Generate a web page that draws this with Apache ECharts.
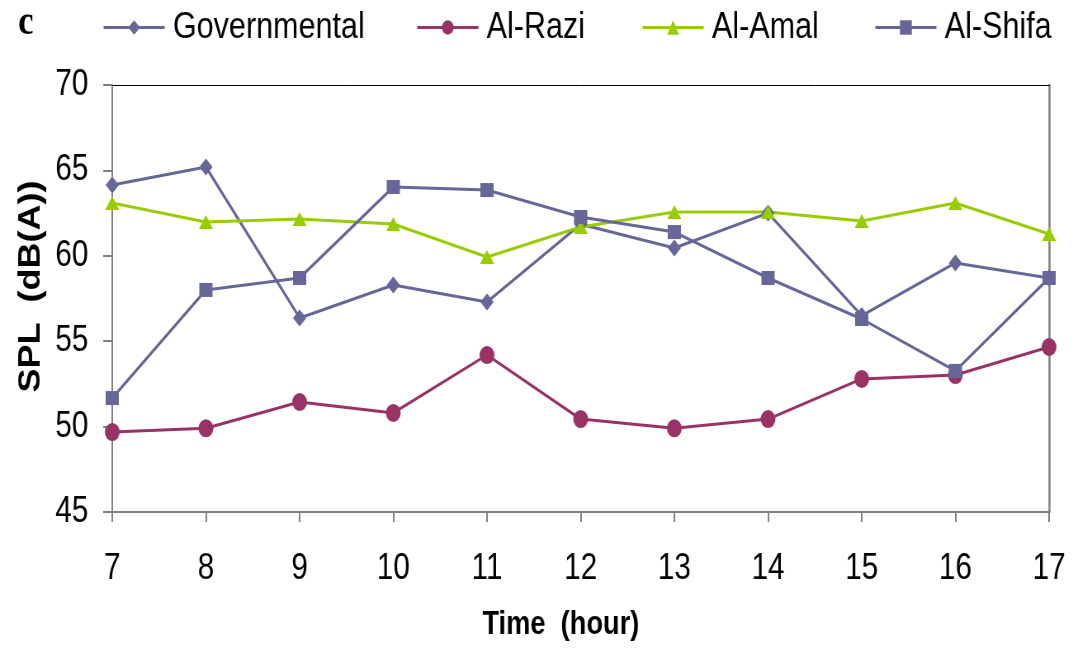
<!DOCTYPE html>
<html><head><meta charset="utf-8">
<script src="https://cdn.jsdelivr.net/npm/echarts@6/dist/echarts.min.js"></script>
<style>
html,body{margin:0;padding:0;background:#fff;overflow:hidden;width:1073px;height:649px}
#c{width:1300px;height:649px;transform:scaleX(0.825385);transform-origin:0 0}
</style>
</head><body><div id="c"></div>
<script>
const hours = ['7','8','9','10','11','12','13','14','15','16','17'];
const yTicks = [45, 50, 55, 60, 65, 70];
const governmental = [64.15, 65.2, 56.36, 58.29, 57.3, 61.85, 60.46, 62.5, 56.5, 59.58, 58.7];
const alRazi = [49.68, 49.9, 51.44, 50.8, 54.19, 50.44, 49.9, 50.44, 52.79, 53.02, 54.66];
const alAmal = [63.09, 61.98, 62.15, 61.86, 59.93, 61.69, 62.56, 62.56, 62.04, 63.09, 61.28];
const alShifa = [51.67, 58.0, 58.7, 64.03, 63.85, 62.27, 61.39, 58.7, 56.3, 53.26, 58.7];
const seriesNames = ['Governmental', 'Al-Razi', 'Al-Amal', 'Al-Shifa'];

// The reference is horizontally compressed; the chart is drawn 1300px wide and squeezed to 1073px.
const SANS = '"Liberation Sans", Arial, sans-serif';

const chart = echarts.init(document.getElementById('c'), null, {renderer: 'canvas', width: 1300, height: 649});
const legendLefts = [124, 504, 777, 1059];
const legends = seriesNames.map((n, i) => ({
  data: [n], left: legendLefts[i], top: 9, padding: 0, itemWidth: 74, itemHeight: 18,
  lineStyle: {width: 3},
  textStyle: {fontFamily: SANS, fontSize: 37, color: '#000', padding: [0, 0, 0, 5]}
}));
function mk(name, data, color, symbol, size) {
  return {name, type: 'line', data, symbol, symbolSize: size, showSymbol: true,
    lineStyle: {color, width: 3}, itemStyle: {color}, animation: false, z: 3};
}
chart.setOption({
  animation: false,
  legend: legends,
  graphic: [{type: 'text', left: 22, top: 2, style: {text: 'c', fontFamily: '"Liberation Serif", "DejaVu Serif", serif', fontWeight: 'bold', fontSize: 42, fill: '#000'}}],
  grid: {left: 136, right: 29, top: 85, bottom: 137},
  xAxis: [{
    type: 'category', data: hours, boundaryGap: false,
    axisLine: {lineStyle: {color: '#808080', width: 2}},
    axisTick: {show: true, length: 10, lineStyle: {color: '#808080', width: 2}},
    axisLabel: {fontFamily: SANS, fontSize: 36, color: '#000', margin: 39},
    splitLine: {show: false},
    name: 'Time  (hour)', nameLocation: 'middle', nameGap: 96,
    nameTextStyle: {fontFamily: SANS, fontWeight: 'bold', fontSize: 33, color: '#000', padding: [0, 48, 0, 0]}
  }, {
    type: 'category', data: hours, boundaryGap: false, position: 'top',
    axisLine: {lineStyle: {color: '#000', width: 1}}, axisTick: {show: false}, axisLabel: {show: false}
  }],
  yAxis: [{
    type: 'value', min: yTicks[0], max: yTicks[yTicks.length - 1], interval: 5,
    axisLine: {show: true, lineStyle: {color: '#808080', width: 2}},
    axisTick: {show: true, length: 11, lineStyle: {color: '#808080', width: 2}},
    axisLabel: {fontFamily: SANS, fontSize: 36, color: '#000', margin: 29},
    splitLine: {show: false},
    name: 'SPL  (dB(A))', nameLocation: 'middle', nameGap: 73, nameRotate: 90,
    nameTextStyle: {fontFamily: SANS, fontWeight: 'bold', fontSize: 36, color: '#000', padding: [0, 0, 0, 24]}
  }, {
    type: 'value', min: yTicks[0], max: yTicks[yTicks.length - 1], interval: 5, position: 'right',
    axisLine: {show: true, lineStyle: {color: '#808080', width: 2.5}}, axisTick: {show: false}, axisLabel: {show: false}, splitLine: {show: false}
  }],
  series: [
    mk('Governmental', governmental, '#666699', 'diamond', [16, 17]),
    mk('Al-Razi', alRazi, '#993366', 'circle', [18, 18]),
    mk('Al-Amal', alAmal, '#99CC00', 'triangle', [17, 14]),
    mk('Al-Shifa', alShifa, '#666699', 'rect', [16, 14])
  ]
});
</script></body></html>
